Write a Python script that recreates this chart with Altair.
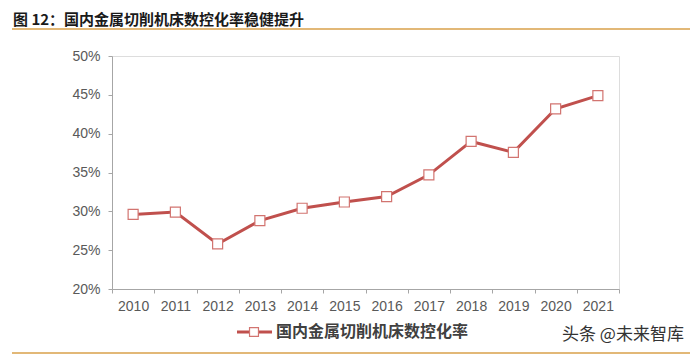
import altair as alt
import pandas as pd

years = ["2010", "2011", "2012", "2013", "2014", "2015", "2016", "2017", "2018", "2019", "2020", "2021"]
rates = [29.6, 29.9, 25.8, 28.8, 30.4, 31.2, 31.9, 34.7, 39.0, 37.6, 43.2, 44.9]
y_ticks = [20, 25, 30, 35, 40, 45, 50]
title_text = "图 12：国内金属切削机床数控化率稳健提升"
series_name = "国内金属切削机床数控化率"
watermark = "头条 @未来智库"

df = pd.DataFrame({"year": years, "rate": rates})

RED = "#C0504D"
GRAY = "#595959"
ORANGE = "#D9A04A"
FONT = "Liberation Sans"
CJK = "Noto Sans CJK SC"

x = alt.X("year:O", sort=years, title=None,
          scale=alt.Scale(paddingInner=0, paddingOuter=0, padding=0),
          axis=alt.Axis(labelAngle=0, tickBand="extent", labelFont=FONT, labelFontSize=14,
                        labelColor=GRAY, domainColor="#A6A6A6", tickColor="#A6A6A6",
                        tickSize=4, labelPadding=6, grid=False))
y = alt.Y("rate:Q", title=None,
          scale=alt.Scale(domain=[20, 50], nice=False, zero=False),
          axis=alt.Axis(values=y_ticks, labelExpr="datum.value + '%'", labelFont=FONT,
                        labelFontSize=14, labelColor=GRAY, domainColor="#A6A6A6",
                        tickColor="#A6A6A6", tickSize=4, labelPadding=8, grid=False))

base = alt.Chart(df)
line = base.mark_line(color=RED, strokeWidth=3).encode(x=x, y=y)
pts = base.mark_point(shape="square", filled=True, fill="white", stroke="#D27470",
                      strokeWidth=1.2, size=100, opacity=1).encode(x=x, y=y)

one = pd.DataFrame({"k": [0]})
oc = alt.Chart(one)

title = oc.mark_text(text=title_text, font=CJK, fontWeight="bold", fontSize=15,
                     color="#1a1a1a", align="left", baseline="middle").encode(
    x=alt.value(-99), y=alt.value(-36))
top_rule = oc.mark_rule(color=ORANGE, strokeWidth=1.5).encode(
    x=alt.value(-100), x2=alt.value(578), y=alt.value(-27))
bot_rule = oc.mark_rule(color=ORANGE, strokeWidth=1.5).encode(
    x=alt.value(-100), x2=alt.value(578), y=alt.value(297))
leg_line = oc.mark_rule(color=RED, strokeWidth=3).encode(
    x=alt.value(125), x2=alt.value(160), y=alt.value(276))
leg_pt = oc.mark_point(shape="square", filled=True, fill="white", stroke="#D27470",
                       strokeWidth=1.2, size=80, opacity=1).encode(
    x=alt.value(142), y=alt.value(276))
leg_text = oc.mark_text(text=series_name, font=CJK, fontWeight="bold", fontSize=16,
                        color="#404040", align="left", baseline="middle").encode(
    x=alt.value(164), y=alt.value(276))
wm = oc.mark_text(text=watermark, font=CJK, fontSize=17, color="#333333",
                  align="left", baseline="middle").encode(
    x=alt.value(450), y=alt.value(279))

chart = alt.layer(line, pts, title, top_rule, bot_rule, leg_line, leg_pt, leg_text, wm).properties(
    width=507, height=233,
    autosize=alt.AutoSizeParams(type="none"),
    padding={"left": 104, "top": 48, "right": 73, "bottom": 65},
).configure_view(stroke=None).configure(background="white")

chart.save("out.html", embed_options={"renderer": "svg", "actions": False})
